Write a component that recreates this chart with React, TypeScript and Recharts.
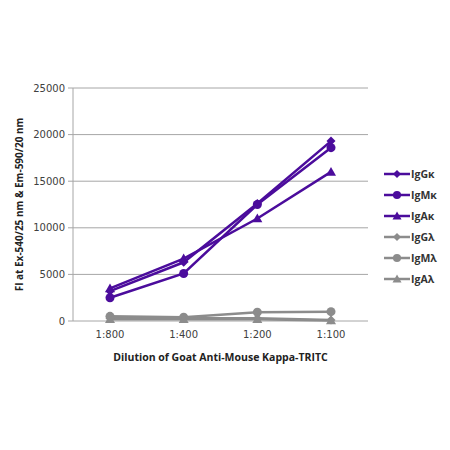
import React from "react";
import { LineChart, Line, XAxis, YAxis, CartesianGrid, Legend } from "recharts";

const categories = ["1:800", "1:400", "1:200", "1:100"];
const IgGk = [3200, 6300, 12600, 19300];
const IgMk = [2500, 5100, 12500, 18600];
const IgAk = [3500, 6700, 11000, 16000];
const IgGl = [300, 300, 300, 100];
const IgMl = [500, 400, 950, 1000];
const IgAl = [200, 200, 200, 50];
const yTicks = [0, 5000, 10000, 15000, 20000, 25000];
const boundaryTicks = [0, 1, 2, 3, 4];

const PURPLE = "#4B0C9C";
const GRAY = "#8C8C8C";

const series = [
  { key: "IgGκ", values: IgGk, color: PURPLE, shape: "diamond" },
  { key: "IgMκ", values: IgMk, color: PURPLE, shape: "circle" },
  { key: "IgAκ", values: IgAk, color: PURPLE, shape: "triangle" },
  { key: "IgGλ", values: IgGl, color: GRAY, shape: "diamond" },
  { key: "IgMλ", values: IgMl, color: GRAY, shape: "circle" },
  { key: "IgAλ", values: IgAl, color: GRAY, shape: "triangle" },
];

const data = categories.map((c, i) => {
  const row: any = { cat: c, idx: i + 0.5 };
  series.forEach((s) => (row[s.key] = s.values[i]));
  return row;
});

function Marker({ cx, cy, shape, color, size = 1 }: any) {
  if (cx == null || cy == null) return null;
  if (shape === "diamond") {
    const r = 4.5 * size;
    return <polygon points={`${cx},${cy - r} ${cx + r},${cy} ${cx},${cy + r} ${cx - r},${cy}`} fill={color} />;
  }
  if (shape === "circle") {
    return <circle cx={cx} cy={cy} r={4.5 * size} fill={color} />;
  }
  const r = 5 * size;
  return <polygon points={`${cx},${cy - r} ${cx + r},${cy + r * 0.75} ${cx - r},${cy + r * 0.75}`} fill={color} />;
}

const LegendContent = () => (
  <div>
    {series.map((s) => (
      <div key={s.key} style={{ display: "flex", alignItems: "center", height: 21 }}>
        <svg width={26} height={12}>
          <line x1={0} y1={6} x2={26} y2={6} stroke={s.color} strokeWidth={2.5} />
          <Marker cx={13} cy={6} shape={s.shape} color={s.color} size={0.9} />
        </svg>
        <span style={{ fontFamily: "'Open Sans', sans-serif", fontWeight: 700, fontSize: 10.5, color: "#333", marginLeft: 1 }}>
          {s.key}
        </span>
      </div>
    ))}
  </div>
);

export default function App() {
  return (
    <div style={{ position: "absolute", left: 0, top: 0, width: 450, height: 450, background: "#fff" }}>
      <LineChart width={450} height={450} data={data} margin={{ top: 88, right: 82, bottom: 99, left: 0 }}>
        <CartesianGrid vertical={false} horizontal={true} stroke="#A6A6A6" strokeWidth={1} xAxisId="cat" />
        <XAxis
          xAxisId="bounds"
          type="number"
          dataKey="idx"
          domain={[0, 4]}
          ticks={boundaryTicks}
          height={0}
          stroke="#A6A6A6"
          tickSize={5}
          tick={() => <g />}
        />
        <XAxis
          xAxisId="cat"
          dataKey="cat"
          height={30}
          axisLine={false}
          tickLine={false}
          padding={{ left: 37, right: 37 }}
          tick={{ fill: "#404040", fontSize: 10, fontFamily: "'DejaVu Sans', sans-serif" }}
          tickMargin={4}
          label={{
            value: "Dilution of Goat Anti-Mouse Kappa-TRITC",
            position: "insideBottom",
            offset: -10,
            style: { fontFamily: "'Open Sans', sans-serif", fontWeight: 700, fontSize: 10.5, fill: "#222" },
          }}
        />
        <YAxis
          width={73}
          domain={[0, 25000]}
          ticks={yTicks}
          stroke="#A6A6A6"
          tickSize={5}
          tickMargin={3}
          tick={{ fill: "#404040", fontSize: 10, fontFamily: "'DejaVu Sans', sans-serif" }}
          label={{
            value: "FI at Ex-540/25 nm & Em-590/20 nm",
            angle: -90,
            position: "insideLeft",
            offset: 0,
            dx: 19,
            style: { textAnchor: "middle", fontFamily: "'Open Sans', sans-serif", fontWeight: 700, fontSize: 10, fill: "#222" },
          }}
        />
        <Legend
          layout="vertical"
          align="center"
          verticalAlign="middle"
          content={<LegendContent />}
          wrapperStyle={{ position: "absolute", left: 384, top: 163, width: 70 }}
        />
        {series.map((s) => (
          <Line
            key={s.key}
            xAxisId="cat"
            dataKey={s.key}
            stroke={s.color}
            strokeWidth={2.5}
            isAnimationActive={false}
            dot={(p: any) => <Marker key={`${s.key}-${p.index}`} cx={p.cx} cy={p.cy} shape={s.shape} color={s.color} />}
            activeDot={false}
          />
        ))}
      </LineChart>
    </div>
  );
}
